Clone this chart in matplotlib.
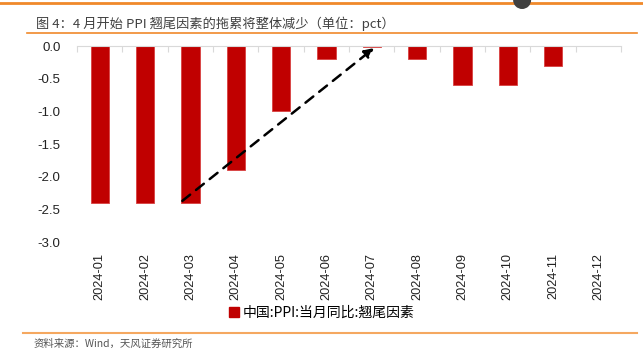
import matplotlib
matplotlib.use('Agg')
import matplotlib.pyplot as plt
import numpy as np
from matplotlib.lines import Line2D
from matplotlib.patches import Ellipse

plt.rcParams['font.family'] = ['Noto Sans CJK SC', 'DejaVu Sans']

# data
months = ['2024-01', '2024-02', '2024-03', '2024-04', '2024-05', '2024-06',
          '2024-07', '2024-08', '2024-09', '2024-10', '2024-11', '2024-12']
carryover = [-2.4, -2.4, -2.4, -1.9, -1.0, -0.2, -0.02, -0.2, -0.6, -0.6, -0.3, np.nan]
y_ticks = [0.0, -0.5, -1.0, -1.5, -2.0, -2.5, -3.0]

title = '图 4：4 月开始 PPI 翘尾因素的拖累将整体减少（单位：pct）'
series_name = '中国:PPI:当月同比:翘尾因素'
source = '资料来源：Wind，天风证券研究所'

orange = '#F0892A'
red = '#C00000'

fig = plt.figure(figsize=(6.43, 3.57), dpi=100)
ax = fig.add_axes([0.12, 0.322, 0.846, 0.549])

x = np.arange(len(months))
ax.bar(x, carryover, width=0.4, color=red, edgecolor='#D84040', linewidth=0.6,
       label=series_name)

ax.set_xlim(-0.5, len(months) - 0.5)
ax.set_ylim(-3.0, 0.0)
ax.set_yticks(y_ticks)
ax.set_yticklabels([f'{v:.1f}' for v in y_ticks], fontsize=9.5, color='#222222',
                   family=['Liberation Sans'])
ax.tick_params(axis='y', length=0, pad=12)

ax.set_xticks(x)
ax.set_xticklabels(months, rotation=90, fontsize=9.2, color='#222222',
                   family=['Liberation Sans'])
ax.tick_params(axis='x', length=0, pad=8)

# boundary ticks on the zero line (top spine)
ax.set_xticks(np.arange(-0.5, len(months)), minor=True)
ax.tick_params(axis='x', which='minor', top=True, bottom=False, direction='in',
               length=4, color='#D9D9D9', width=0.8)

for s in ['left', 'right', 'bottom']:
    ax.spines[s].set_visible(False)
ax.spines['top'].set_color('#D9D9D9')
ax.spines['top'].set_linewidth(0.8)

# trend arrow
ax.annotate('', xy=(6.05, -0.03), xytext=(1.82, -2.37),
            arrowprops=dict(arrowstyle='-|>', linestyle=(0, (4, 3)), lw=1.8,
                            color='black', mutation_scale=14, shrinkA=0, shrinkB=0))

# legend
fig.legend(handles=[Line2D([], [], marker='s', linestyle='none', color=red,
                           markersize=6.5)],
           labels=[series_name], loc='center', bbox_to_anchor=(0.5, 0.123),
           frameon=False, fontsize=10, handletextpad=0.2, handlelength=0.8)

# decorations
fig.add_artist(Line2D([0, 1], [0.991, 0.991], color=orange, lw=2.0))
fig.add_artist(Ellipse((0.812, 1.0), 18 / 643, 18 / 357, transform=fig.transFigure,
                       facecolor='#404040', edgecolor='none', clip_on=False, zorder=5))
fig.text(0.056, 0.934, title, fontsize=9.5, color='#404040', va='center')
fig.add_artist(Line2D([0.042, 0.99], [0.908, 0.908], color=orange, lw=1.2))
fig.add_artist(Line2D([0.035, 0.99], [0.067, 0.067], color='#F5A860', lw=1.5))
fig.text(0.052, 0.037, source, fontsize=7.5, color='#555555', va='center')

fig.savefig('out.png', dpi=100)
